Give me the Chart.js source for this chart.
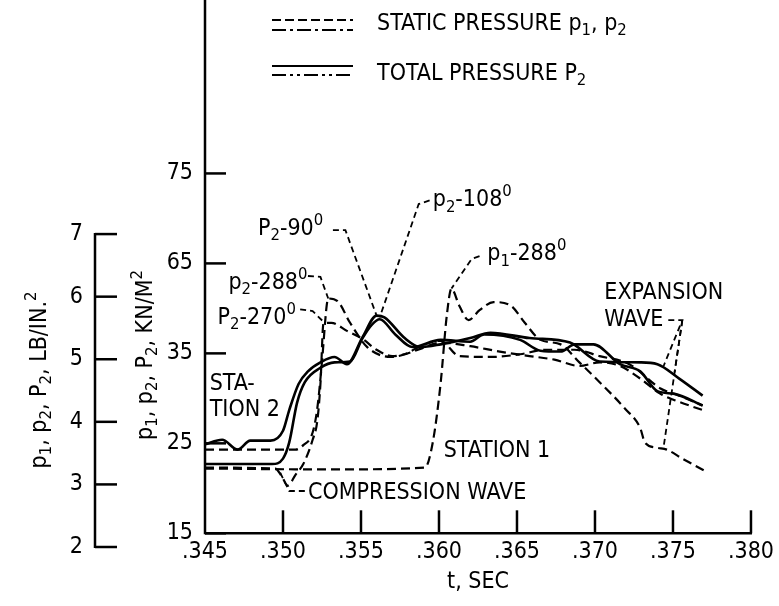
<!DOCTYPE html>
<html>
<head>
<meta charset="utf-8">
<title>Static and total pressure vs time</title>
<script src="https://cdn.jsdelivr.net/npm/chart.js@4.4.0/dist/chart.umd.min.js"></script>
<style>
  html, body { margin: 0; padding: 0; background: #fff; }
  canvas { display: block; }
</style>
</head>
<body>
<canvas id="myChart" width="779" height="606"></canvas>
<script>
const FONT = "'Liberation Sans Narrow', 'DejaVu Sans Condensed', 'Arial Narrow', sans-serif";
const SIZE = 23;

// ejes
const xTicks = [0.345, 0.350, 0.355, 0.360, 0.365, 0.370, 0.375, 0.380];
const xTickLabels = [".345", ".350", ".355", ".360", ".365", ".370", ".375", ".380"];
const kpaTicks = [15, 25, 35, 45, 55];
const kpaTickLabels = ["15", "25", "35", "65", "75"];
const psiTicks = [2, 3, 4, 5, 6, 7];
const psiTickLabels = ["2", "3", "4", "5", "6", "7"];

// p1-288 (static, station 1)
const tP1_288 = [0.3450, 0.3530, 0.3591, 0.3596, 0.3601, 0.3605, 0.3608, 0.3613, 0.3619, 0.3626, 0.3635, 0.3646, 0.3655, 0.3665, 0.3678, 0.3690, 0.3703, 0.3719, 0.3729, 0.3732, 0.3740, 0.3746, 0.3756, 0.3772];
const pP1_288 = [22.2, 22.1, 22.3, 25.1, 31.6, 39.2, 42.2, 40.3, 38.7, 39.8, 40.7, 40.3, 38.4, 36.5, 36.0, 34.0, 31.8, 28.9, 26.7, 25.1, 24.5, 24.3, 23.3, 21.8];

// p2-288 (static, station 2)
const tP2_288 = [0.3450, 0.3508, 0.3513, 0.3519, 0.3522, 0.3525, 0.3528, 0.3529, 0.3535, 0.3543, 0.3554, 0.3569, 0.3578, 0.3588, 0.3601, 0.3613, 0.3633, 0.3652, 0.3668, 0.3687, 0.3703, 0.3722, 0.3742, 0.3754, 0.3769];
const pP2_288 = [24.3, 24.3, 24.8, 26.2, 28.9, 34.1, 40.3, 41.1, 40.8, 38.4, 35.7, 34.6, 34.9, 35.8, 36.4, 34.7, 34.6, 34.9, 35.4, 35.4, 34.7, 33.8, 31.1, 30.3, 29.2];

// P2-270 (total)
const tT2_270 = [0.3450, 0.3493, 0.3500, 0.3504, 0.3509, 0.3514, 0.3524, 0.3533, 0.3543, 0.3551, 0.3557, 0.3562, 0.3572, 0.3583, 0.3601, 0.3620, 0.3629, 0.3652, 0.3665, 0.3678, 0.3687, 0.3699, 0.3716, 0.3729, 0.3740, 0.3751, 0.3769];
const pT2_270 = [22.7, 22.7, 23.3, 25.1, 29.5, 31.8, 33.4, 34.0, 34.1, 36.7, 38.2, 38.8, 37.1, 35.7, 36.5, 36.3, 37.1, 36.5, 35.3, 35.2, 36.0, 36.0, 33.8, 33.0, 30.8, 30.5, 29.2];

// P2-90 (total)
const tT2_90 = [0.3450, 0.3461, 0.3471, 0.3479, 0.3492, 0.3500, 0.3504, 0.3510, 0.3516, 0.3524, 0.3533, 0.3541, 0.3551, 0.3560, 0.3565, 0.3578, 0.3588, 0.3601, 0.3620, 0.3633, 0.3658, 0.3684, 0.3703, 0.3729, 0.3740, 0.3754, 0.3769];
const pT2_90 = [24.9, 25.4, 24.3, 25.3, 25.3, 26.4, 28.7, 31.6, 33.0, 34.0, 34.6, 33.8, 36.8, 39.2, 39.0, 36.7, 35.7, 36.0, 36.7, 37.3, 36.7, 36.2, 34.1, 34.0, 33.8, 32.2, 30.3];

// p2-108 (static)
const tP2_108 = [0.3450, 0.3495, 0.3499, 0.3503, 0.3508, 0.3513, 0.3519, 0.3522, 0.3524, 0.3526, 0.3531, 0.3541, 0.3551, 0.3560, 0.3570, 0.3578, 0.3588, 0.3601, 0.3620, 0.3639, 0.3658, 0.3674, 0.3690, 0.3703, 0.3716, 0.3729, 0.3742, 0.3751, 0.3769];
const pP2_108 = [22.3, 22.2, 21.4, 20.3, 21.5, 22.7, 25.4, 27.5, 31.6, 38.4, 38.4, 37.5, 36.6, 35.4, 34.7, 34.9, 35.5, 36.2, 35.8, 35.2, 34.7, 34.3, 33.6, 34.0, 33.6, 32.2, 30.5, 29.8, 28.7];

// textos sobre la grafica (t en s, p en kN/m2); "_" subindice, "^" superindice
const notes = [
  { text: "P_2-90^0", t: 0.3484, p: 48.8 },
  { text: "p_2-108^0", t: 0.3596, p: 52.0 },
  { text: "p_2-288^0", t: 0.3465, p: 42.8 },
  { text: "P_2-270^0", t: 0.3458, p: 38.9 },
  { text: "p_1-288^0", t: 0.3631, p: 46.0 },
  { text: "STA-", t: 0.3453, p: 31.6 },
  { text: "TION 2", t: 0.3453, p: 28.7 },
  { text: "STATION 1", t: 0.3603, p: 24.2 },
  { text: "COMPRESSION WAVE", t: 0.3516, p: 19.5 },
  { text: "EXPANSION", t: 0.3706, p: 41.7 },
  { text: "WAVE", t: 0.3706, p: 38.7 }
];
const leaders = [
  { t: [0.3532, 0.3540, 0.3560], p: [48.7, 48.7, 39.2] },
  { t: [0.3594, 0.3587, 0.3562], p: [52.0, 51.6, 39.0] },
  { t: [0.3516, 0.3524, 0.3529], p: [43.6, 43.5, 41.1] },
  { t: [0.3511, 0.3519, 0.3526], p: [39.9, 39.7, 38.5] },
  { t: [0.3626, 0.3621, 0.3608], p: [45.8, 45.5, 42.2] },
  { t: [0.3514, 0.3504, 0.3498], p: [19.7, 19.7, 21.8] },
  { t: [0.3747, 0.3756, 0.3744], p: [38.7, 38.7, 33.6] },
  { t: [0.3756, 0.3751], p: [38.7, 32.9] },
  { t: [0.3756, 0.3744], p: [38.7, 24.6] }
];

function pts(t, p) {
  return t.map((v, i) => ({ x: v, y: p[i] }));
}

function serie(label, t, p, dashed) {
  return {
    label: label,
    data: pts(t, p),
    borderColor: "#000",
    borderWidth: dashed ? 2.2 : 2.6,
    borderDash: dashed ? [9, 5] : [],
    pointRadius: 0,
    fill: false,
    cubicInterpolationMode: "monotone"
  };
}

// texto con subindices y superindices
function richParts(str) {
  const parts = [];
  for (let i = 0; i < str.length; i++) {
    const c = str[i];
    if ((c === "_" || c === "^") && i + 1 < str.length) {
      parts.push({ t: str[i + 1], k: c });
      i++;
    } else if (parts.length && parts[parts.length - 1].k === "") {
      parts[parts.length - 1].t += c;
    } else {
      parts.push({ t: c, k: "" });
    }
  }
  return parts;
}

function richWidth(ctx, str) {
  let w = 0;
  richParts(str).forEach((part) => {
    ctx.font = (part.k ? SIZE * 0.72 : SIZE) + "px " + FONT;
    w += ctx.measureText(part.t).width;
  });
  return w;
}

function drawRich(ctx, str, x, y) {
  let cx = x;
  ctx.textAlign = "left";
  ctx.textBaseline = "middle";
  richParts(str).forEach((part) => {
    ctx.font = (part.k ? SIZE * 0.72 : SIZE) + "px " + FONT;
    const dy = part.k === "_" ? SIZE * 0.3 : part.k === "^" ? -SIZE * 0.36 : 0;
    ctx.fillText(part.t, cx, y + dy);
    cx += ctx.measureText(part.t).width;
  });
}

function line(ctx, x1, y1, x2, y2) {
  ctx.beginPath();
  ctx.moveTo(x1, y1);
  ctx.lineTo(x2, y2);
  ctx.stroke();
}

// ejes, leyenda y anotaciones
const decor = {
  id: "decor",
  afterDraw(chart) {
    const ctx = chart.ctx;
    const sx = chart.scales.x;
    const sy = chart.scales.y;
    const s2 = chart.scales.y2;
    const x0 = sx.getPixelForValue(xTicks[0]);
    const y0 = sy.getPixelForValue(kpaTicks[0]);
    ctx.save();
    ctx.strokeStyle = "#000";
    ctx.fillStyle = "#000";
    ctx.lineWidth = 2.5;

    // eje kN/m2 y eje de tiempo
    line(ctx, x0, y0 + 1, x0, 0);
    line(ctx, x0, y0, sx.getPixelForValue(xTicks[xTicks.length - 1]) + 1, y0);
    xTicks.slice(1).forEach((v) => {
      const px = sx.getPixelForValue(v);
      line(ctx, px, y0, px, y0 - 23);
    });
    kpaTicks.forEach((v) => {
      const py = sy.getPixelForValue(v);
      line(ctx, x0, py, x0 + 21, py);
    });

    // eje lb/in2
    const xa = s2.right;
    line(ctx, xa, s2.getPixelForValue(psiTicks[0]) + 1, xa, s2.getPixelForValue(psiTicks[psiTicks.length - 1]) - 1);
    psiTicks.forEach((v) => {
      const py = s2.getPixelForValue(v);
      line(ctx, xa, py, xa + 22, py);
    });

    // titulos girados
    [["p_1, p_2, P_2, KN/M^2", 146, 355], ["p_1, p_2, P_2, LB/IN.^2", 40, 380]].forEach((tt) => {
      const w = richWidth(ctx, tt[0]);
      ctx.save();
      ctx.translate(tt[1], tt[2]);
      ctx.rotate(-Math.PI / 2);
      drawRich(ctx, tt[0], -w / 2, 0);
      ctx.restore();
    });

    // leyenda
    ctx.lineWidth = 2;
    ctx.setLineDash([9, 4]);
    line(ctx, 272, 20, 353, 20);
    ctx.setLineDash([14, 4, 3, 4]);
    line(ctx, 272, 30, 353, 30);
    ctx.setLineDash([]);
    line(ctx, 272, 66, 353, 66);
    ctx.setLineDash([14, 4, 3, 4, 3, 4]);
    line(ctx, 272, 75, 353, 75);
    drawRich(ctx, "STATIC PRESSURE p_1, p_2", 377, 24);
    drawRich(ctx, "TOTAL PRESSURE P_2", 377, 74);

    // lineas guia
    ctx.lineWidth = 1.8;
    ctx.setLineDash([6, 4]);
    leaders.forEach((ld) => {
      ctx.beginPath();
      ld.t.forEach((v, i) => {
        const px = sx.getPixelForValue(v);
        const py = sy.getPixelForValue(ld.p[i]);
        if (i === 0) ctx.moveTo(px, py);
        else ctx.lineTo(px, py);
      });
      ctx.stroke();
    });
    ctx.setLineDash([]);

    notes.forEach((n) => {
      drawRich(ctx, n.text, sx.getPixelForValue(n.t), sy.getPixelForValue(n.p));
    });
    ctx.restore();
  }
};

const tickFont = { family: FONT, size: SIZE };

function renderChart() {
  const ctx = document.querySelector("#myChart").getContext("2d");
  new Chart(ctx, {
    type: "line",
    data: {
      datasets: [
        serie("p1-288", tP1_288, pP1_288, true),
        serie("p2-288", tP2_288, pP2_288, true),
        serie("P2-270", tT2_270, pT2_270, false),
        serie("P2-90", tT2_90, pT2_90, false),
        serie("p2-108", tP2_108, pP2_108, true)
      ]
    },
    options: {
      responsive: false,
      animation: false,
      layout: { padding: { top: 14, right: 28, bottom: 59, left: 0 } },
      plugins: {
        legend: { display: false },
        tooltip: { enabled: false }
      },
      scales: {
        x: {
          type: "linear",
          min: 0.345,
          max: 0.380,
          position: { y: 15 },
          grid: { display: false, drawTicks: false },
          border: { display: false },
          afterBuildTicks: (s) => { s.ticks = xTicks.map((v) => ({ value: v })); },
          ticks: {
            callback: (v, i) => xTickLabels[i],
            font: tickFont,
            color: "#000",
            padding: 5,
            maxRotation: 0,
            autoSkip: false
          },
          title: { display: true, text: "t, SEC", font: tickFont, color: "#000", padding: { top: -3, bottom: 0 } }
        },
        y: {
          type: "linear",
          position: "left",
          min: 13.478,
          max: 71.41,
          weight: 0,
          grid: { display: false, drawTicks: false },
          border: { display: false },
          afterBuildTicks: (s) => { s.ticks = kpaTicks.map((v) => ({ value: v })); },
          afterFit: (s) => { s.width = 110; },
          ticks: { callback: (v, i) => kpaTickLabels[i], font: tickFont, color: "#000", padding: 12 }
        },
        y2: {
          type: "linear",
          position: "left",
          min: 2,
          max: 10.328,
          weight: 1,
          grid: { display: false, drawTicks: false },
          border: { display: false },
          afterBuildTicks: (s) => { s.ticks = psiTicks.map((v) => ({ value: v })); },
          afterFit: (s) => { s.width = 95; },
          ticks: { callback: (v, i) => psiTickLabels[i], font: tickFont, color: "#000", padding: 12 }
        }
      }
    },
    plugins: [decor]
  });
}
renderChart();
</script>
</body>
</html>
